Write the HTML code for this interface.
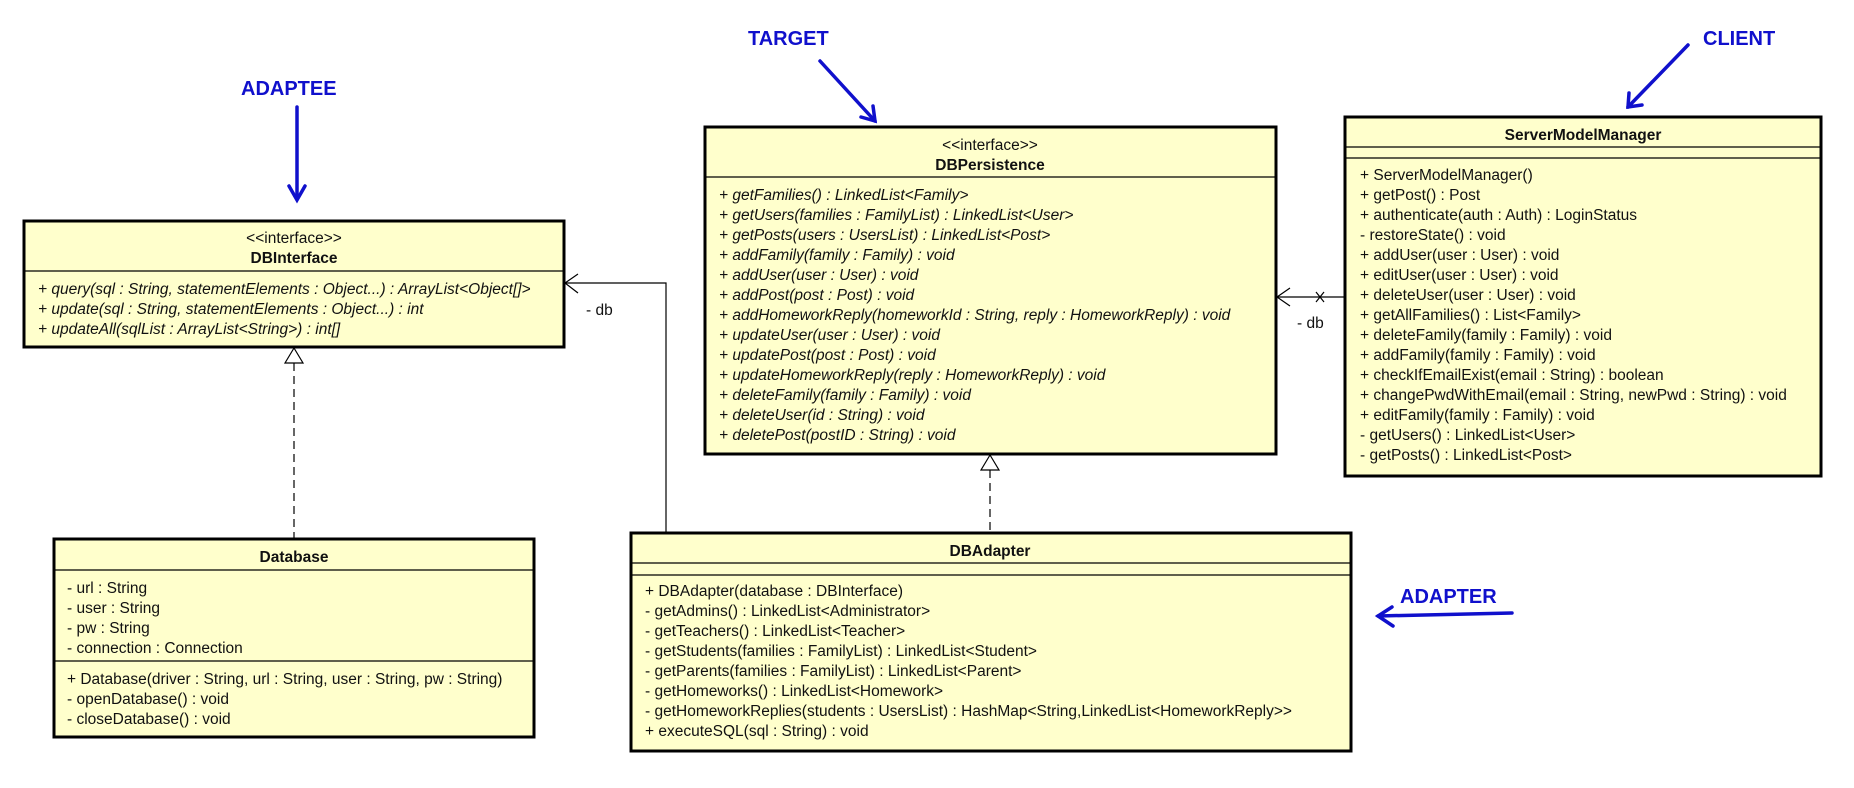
<!DOCTYPE html>
<html><head><meta charset="utf-8"><style>
html,body{margin:0;padding:0;background:#fff;}
svg{display:block;}
text{font-family:"Liberation Sans",Arial,sans-serif;font-size:15.5px;fill:#111;}
.i{font-style:italic;}
.b{font-weight:bold;}
.lbl{font-weight:bold;font-size:20px;fill:#1010cc;}
</style></head><body>
<svg width="1854" height="788" viewBox="0 0 1854 788" xmlns="http://www.w3.org/2000/svg">
<!-- DBInterface -->
<rect x="24" y="221" width="540" height="126" fill="#ffffcc" stroke="#000" stroke-width="3"/>
<line x1="24" y1="271" x2="564" y2="271" stroke="#000" stroke-width="1.2"/>
<text x="294" y="243" text-anchor="middle">&lt;&lt;interface&gt;&gt;</text>
<text x="294" y="263" text-anchor="middle" class="b">DBInterface</text>
<text x="38" y="294" class="i">+ query(sql : String, statementElements : Object...) : ArrayList&lt;Object[]&gt;</text>
<text x="38" y="314" class="i">+ update(sql : String, statementElements : Object...) : int</text>
<text x="38" y="334" class="i">+ updateAll(sqlList : ArrayList&lt;String&gt;) : int[]</text>

<!-- DBPersistence -->
<rect x="705" y="127" width="571" height="327" fill="#ffffcc" stroke="#000" stroke-width="3"/>
<line x1="705" y1="177" x2="1276" y2="177" stroke="#000" stroke-width="1.2"/>
<text x="990" y="150" text-anchor="middle">&lt;&lt;interface&gt;&gt;</text>
<text x="990" y="170" text-anchor="middle" class="b">DBPersistence</text>
<text x="719" y="200" class="i">+ getFamilies() : LinkedList&lt;Family&gt;</text>
<text x="719" y="220" class="i">+ getUsers(families : FamilyList) : LinkedList&lt;User&gt;</text>
<text x="719" y="240" class="i">+ getPosts(users : UsersList) : LinkedList&lt;Post&gt;</text>
<text x="719" y="260" class="i">+ addFamily(family : Family) : void</text>
<text x="719" y="280" class="i">+ addUser(user : User) : void</text>
<text x="719" y="300" class="i">+ addPost(post : Post) : void</text>
<text x="719" y="320" class="i">+ addHomeworkReply(homeworkId : String, reply : HomeworkReply) : void</text>
<text x="719" y="340" class="i">+ updateUser(user : User) : void</text>
<text x="719" y="360" class="i">+ updatePost(post : Post) : void</text>
<text x="719" y="380" class="i">+ updateHomeworkReply(reply : HomeworkReply) : void</text>
<text x="719" y="400" class="i">+ deleteFamily(family : Family) : void</text>
<text x="719" y="420" class="i">+ deleteUser(id : String) : void</text>
<text x="719" y="440" class="i">+ deletePost(postID : String) : void</text>

<!-- ServerModelManager -->
<rect x="1345" y="117" width="476" height="359" fill="#ffffcc" stroke="#000" stroke-width="3"/>
<line x1="1345" y1="147" x2="1821" y2="147" stroke="#000" stroke-width="1.2"/>
<line x1="1345" y1="158" x2="1821" y2="158" stroke="#000" stroke-width="1.2"/>
<text x="1583" y="140" text-anchor="middle" class="b">ServerModelManager</text>
<text x="1360" y="180">+ ServerModelManager()</text>
<text x="1360" y="200">+ getPost() : Post</text>
<text x="1360" y="220">+ authenticate(auth : Auth) : LoginStatus</text>
<text x="1360" y="240">- restoreState() : void</text>
<text x="1360" y="260">+ addUser(user : User) : void</text>
<text x="1360" y="280">+ editUser(user : User) : void</text>
<text x="1360" y="300">+ deleteUser(user : User) : void</text>
<text x="1360" y="320">+ getAllFamilies() : List&lt;Family&gt;</text>
<text x="1360" y="340">+ deleteFamily(family : Family) : void</text>
<text x="1360" y="360">+ addFamily(family : Family) : void</text>
<text x="1360" y="380">+ checkIfEmailExist(email : String) : boolean</text>
<text x="1360" y="400">+ changePwdWithEmail(email : String, newPwd : String) : void</text>
<text x="1360" y="420">+ editFamily(family : Family) : void</text>
<text x="1360" y="440">- getUsers() : LinkedList&lt;User&gt;</text>
<text x="1360" y="460">- getPosts() : LinkedList&lt;Post&gt;</text>

<!-- Database -->
<rect x="54" y="539" width="480" height="198" fill="#ffffcc" stroke="#000" stroke-width="3"/>
<line x1="54" y1="570" x2="534" y2="570" stroke="#000" stroke-width="1.2"/>
<line x1="54" y1="661" x2="534" y2="661" stroke="#000" stroke-width="1.2"/>
<text x="294" y="562" text-anchor="middle" class="b">Database</text>
<text x="67" y="593">- url : String</text>
<text x="67" y="613">- user : String</text>
<text x="67" y="633">- pw : String</text>
<text x="67" y="653">- connection : Connection</text>
<text x="67" y="684">+ Database(driver : String, url : String, user : String, pw : String)</text>
<text x="67" y="704">- openDatabase() : void</text>
<text x="67" y="724">- closeDatabase() : void</text>

<!-- DBAdapter -->
<rect x="631" y="533" width="720" height="218" fill="#ffffcc" stroke="#000" stroke-width="3"/>
<line x1="631" y1="563" x2="1351" y2="563" stroke="#000" stroke-width="1.2"/>
<line x1="631" y1="575" x2="1351" y2="575" stroke="#000" stroke-width="1.2"/>
<text x="990" y="556" text-anchor="middle" class="b">DBAdapter</text>
<text x="645" y="596">+ DBAdapter(database : DBInterface)</text>
<text x="645" y="616">- getAdmins() : LinkedList&lt;Administrator&gt;</text>
<text x="645" y="636">- getTeachers() : LinkedList&lt;Teacher&gt;</text>
<text x="645" y="656">- getStudents(families : FamilyList) : LinkedList&lt;Student&gt;</text>
<text x="645" y="676">- getParents(families : FamilyList) : LinkedList&lt;Parent&gt;</text>
<text x="645" y="696">- getHomeworks() : LinkedList&lt;Homework&gt;</text>
<text x="645" y="716">- getHomeworkReplies(students : UsersList) : HashMap&lt;String,LinkedList&lt;HomeworkReply&gt;&gt;</text>
<text x="645" y="736">+ executeSQL(sql : String) : void</text>

<!-- connectors -->
<g fill="none" stroke="#000" stroke-width="1.2">
<polyline points="666,532 666,283 565,283"/>
<polyline points="578,274 565,283 578,293"/>
<line x1="1345" y1="297" x2="1277" y2="297"/>
<polyline points="1290,288 1277,297 1290,306"/>
<line x1="1316" y1="292" x2="1324" y2="302"/><line x1="1324" y1="292" x2="1316" y2="302"/>
<line x1="294" y1="363" x2="294" y2="539" stroke-dasharray="8,5"/>
<polygon points="294,348 285,363 303,363" fill="#fff"/>
<line x1="990" y1="470" x2="990" y2="532" stroke-dasharray="8,5"/>
<polygon points="990,455 981,470 999,470" fill="#fff"/>
</g>
<text x="586" y="315">- db</text>
<text x="1297" y="328">- db</text>

<!-- labels -->
<text x="241" y="95" class="lbl">ADAPTEE</text>
<text x="748" y="45" class="lbl">TARGET</text>
<text x="1703" y="45" class="lbl">CLIENT</text>
<text x="1400" y="603" class="lbl">ADAPTER</text>
<g stroke="#1010cc" stroke-width="3.5" fill="none" stroke-linecap="round">
<line x1="297" y1="107" x2="297" y2="199"/>
<polyline points="289,186 297,200 305,186"/>
<line x1="820" y1="61" x2="875" y2="121"/>
<polyline points="861,117 875,121 873,106"/>
<line x1="1688" y1="45" x2="1628" y2="107"/>
<polyline points="1629,93 1628,107 1642,105"/>
<line x1="1512" y1="613" x2="1378" y2="616"/>
<polyline points="1392,607 1378,616 1393,626"/>
</g>
</svg>
</body></html>
